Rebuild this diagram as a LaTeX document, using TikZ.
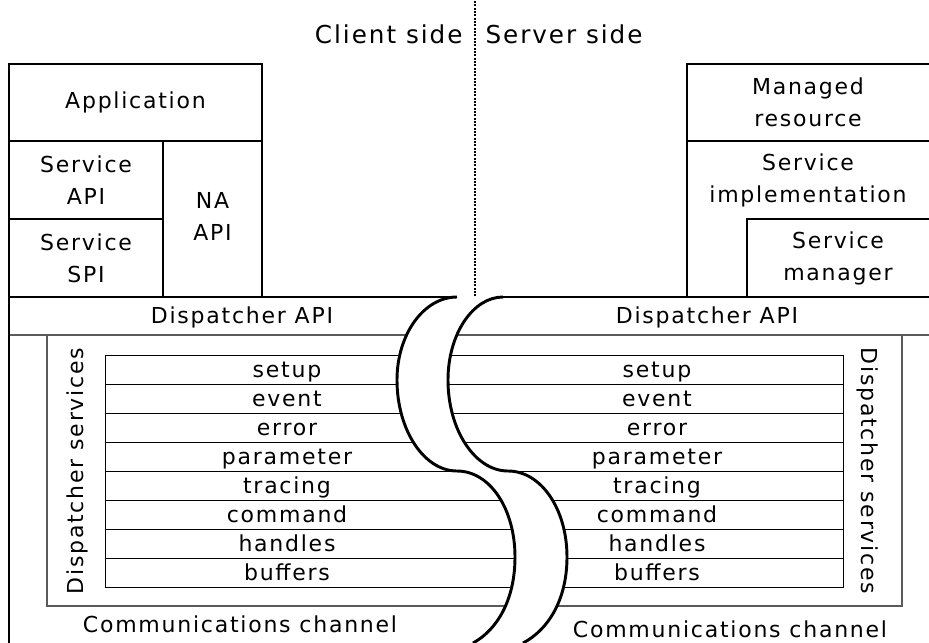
\documentclass[tikz,border=0pt]{standalone}
\usepackage{fontspec}
\setmainfont{DejaVu Sans}[LetterSpace=8]
\tikzset{every picture/.style={line width=0.75pt}}
\tikzset{
  lbl/.style={font=\fontsize{16.5}{24}\selectfont, align=center, inner sep=0pt},
  sidelbl/.style={font=\fontsize{18.5}{24}\selectfont, inner sep=0pt},
  heavy/.style={line width=2.2pt},
  hair/.style={line width=0.8pt, draw={rgb, 255:red, 90; green, 90; blue, 90 }},
  rowline/.style={line width=0.75pt}
}

\begin{document}
\begin{tikzpicture}[x=0.75pt,y=0.75pt,yscale=-1,xscale=1]
	\useasboundingbox (0,0) rectangle (929,643);

	%Shape: Rectangle (dispatcher services frame)
	\draw [hair] (9,335) -- (929,335) ;
	\draw [hair] (47,335) -- (47,606) -- (902,606) -- (902,335) ;
	%Straight Lines (service rows)
	\draw [rowline] (105,355) rectangle (843,587) ;
	\draw [rowline] (105,384) -- (843,384) ;
	\draw [rowline] (105,413) -- (843,413) ;
	\draw [rowline] (105,442) -- (843,442) ;
	\draw [rowline] (105,471) -- (843,471) ;
	\draw [rowline] (105,500) -- (843,500) ;
	\draw [rowline] (105,529) -- (843,529) ;
	\draw [rowline] (105,558) -- (843,558) ;

	%Shape: Band (break in the channel)
	\path [fill=white] (457,297) .. controls (424,297) and (397,334) .. (397,380) .. controls (397,430) and (424,471) .. (457,471) .. controls (490,471) and (515,509) .. (515,557) .. controls (515,600) and (497,630) .. (473,643) -- (523,643) .. controls (548,630) and (567,600) .. (567,557) .. controls (567,509) and (541,471) .. (508,471) .. controls (475,471) and (448,430) .. (448,380) .. controls (448,334) and (473,297) .. (503,297) -- cycle ;
	\draw [heavy] (457,297) .. controls (424,297) and (397,334) .. (397,380) .. controls (397,430) and (424,471) .. (457,471) .. controls (490,471) and (515,509) .. (515,557) .. controls (515,600) and (497,630) .. (473,643) ;
	\draw [heavy] (503,297) .. controls (473,297) and (448,334) .. (448,380) .. controls (448,430) and (475,471) .. (508,471) .. controls (541,471) and (567,509) .. (567,557) .. controls (567,600) and (548,630) .. (523,643) ;

	%Shape: Rectangle (client stack)
	\draw [heavy] (9,643) -- (9,64) -- (262,64) -- (262,297) ;
	\draw [heavy] (9,141) -- (262,141) ;
	\draw [heavy] (9,219) -- (163,219) ;
	\draw [heavy] (163,141) -- (163,297) ;
	\draw [heavy] (9,297) -- (457,297) ;
	%Shape: Rectangle (server stack)
	\draw [heavy] (929,64) -- (687,64) -- (687,297) ;
	\draw [heavy] (687,141) -- (929,141) ;
	\draw [heavy] (929,219) -- (747,219) -- (747,297) ;
	\draw [heavy] (503,297) -- (929,297) ;

	%Straight Lines (client / server split)
	\draw [line width=1.5pt, densely dotted] (475,1) -- (475,297) ;

	% Text Node
	\draw (463,43) node [sidelbl, anchor=base east] (client) {Client side};
	% Text Node
	\draw (485,43) node [sidelbl, anchor=base west] (server) {Server side};
	% Text Node
	\draw (135.5,102.5) node [lbl] (app) {Application};
	% Text Node
	\draw (86,180) node [lbl] (sapi) {Service\\API};
	% Text Node
	\draw (86,258) node [lbl] (sspi) {Service\\SPI};
	% Text Node
	\draw (212.5,216) node [lbl] (naapi) {NA\\API};
	% Text Node
	\draw (808,102.5) node [lbl] (mres) {Managed\\resource};
	% Text Node
	\draw (808,180) node [lbl] (simpl) {Service\\implementation};
	% Text Node
	\draw (838,258) node [lbl] (smgr) {Service\\manager};
	% Text Node
	\draw (242,323) node [lbl, anchor=base] (dapil) {Dispatcher API};
	% Text Node
	\draw (707,323) node [lbl, anchor=base] (dapir) {Dispatcher API};
	% Text Node
	\draw (77,471) node [lbl, rotate=90] (dsvcl) {Dispatcher services};
	% Text Node
	\draw (868,471) node [lbl, rotate=-90] (dsvcr) {Dispatcher services};
	% Text Node
	\draw (240,624) node [lbl] (chanl) {Communications channel};
	% Text Node
	\draw (730,629) node [lbl] (chanr) {Communications channel};

	% Text Node (client rows)
	\draw (287,377) node [lbl, anchor=base] (setupl) {setup};
	\draw (287,406) node [lbl, anchor=base] (eventl) {event};
	\draw (287,435) node [lbl, anchor=base] (errorl) {error};
	\draw (287,464) node [lbl, anchor=base] (paraml) {parameter};
	\draw (287,493) node [lbl, anchor=base] (tracel) {tracing};
	\draw (287,522) node [lbl, anchor=base] (cmdl) {command};
	\draw (287,551) node [lbl, anchor=base] (handl) {handles};
	\draw (287,580) node [lbl, anchor=base] (bufl) {buffers};
	% Text Node (server rows)
	\draw (657,377) node [lbl, anchor=base] (setupr) {setup};
	\draw (657,406) node [lbl, anchor=base] (eventr) {event};
	\draw (657,435) node [lbl, anchor=base] (errorr) {error};
	\draw (657,464) node [lbl, anchor=base] (paramr) {parameter};
	\draw (657,493) node [lbl, anchor=base] (tracer) {tracing};
	\draw (657,522) node [lbl, anchor=base] (cmdr) {command};
	\draw (657,551) node [lbl, anchor=base] (handr) {handles};
	\draw (657,580) node [lbl, anchor=base] (bufr) {buffers};

\end{tikzpicture}
\end{document}
